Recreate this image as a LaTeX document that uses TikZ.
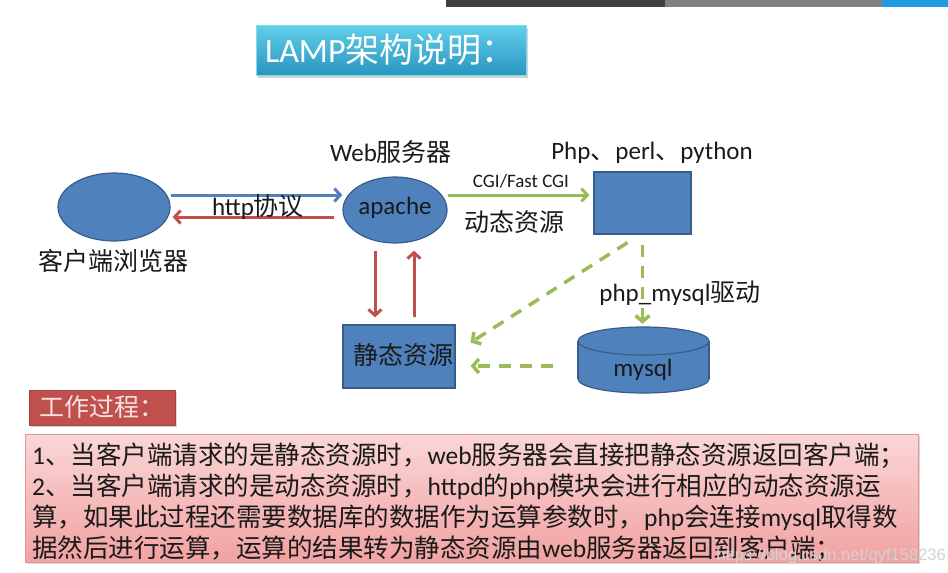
\documentclass[tikz,border=0pt]{standalone}
\usepackage{fontspec}
\setmainfont{Carlito}
\newfontfamily\cjk{Noto Sans CJK SC}
\newfontfamily\wmfont{Liberation Sans}
\newcommand\zh[1]{{\cjk #1}}
\usetikzlibrary{arrows.meta,shapes.geometric,shadows,calc}
\definecolor{obl}{HTML}{4F81BD}
\definecolor{obld}{HTML}{385D8A}
\definecolor{ored}{HTML}{C0504D}
\definecolor{ogrn}{HTML}{9BBB59}
\definecolor{txt}{HTML}{1A1A1A}
\definecolor{tcyanT}{HTML}{62CFEA}
\definecolor{tcyanB}{HTML}{2A95C0}
\definecolor{pinkT}{HTML}{FAD6D6}
\definecolor{pinkB}{HTML}{F2A2A2}
\definecolor{pinkD}{HTML}{E39595}
\definecolor{wrkTxt}{HTML}{F6E2E2}
\definecolor{barblue}{HTML}{1E9BE0}
\definecolor{wmgray}{HTML}{D2D2D2}
\begin{document}
\begin{tikzpicture}[x=1pt,y=-1pt,
  lbl/.style={font=\fontsize{25}{30}\selectfont, inner sep=0, text=txt},
  shapebox/.style={draw=obld, line width=1.2pt, fill=obl, inner sep=0},
  arrblue/.style={draw=obl, line width=3pt, -{Straight Barb[length=6pt,width=13pt]}},
  arrred/.style={draw=ored, line width=3pt, -{Straight Barb[length=6pt,width=13pt]}},
  arrgrn/.style={draw=ogrn, line width=3pt, -{Straight Barb[length=6pt,width=13pt]}},
  dashg/.style={draw=ogrn, line width=3.5pt, dash pattern=on 12pt off 9pt, -{Straight Barb[length=6pt,width=14pt]}},
  desc/.style={font=\fontsize{25.5}{31}\selectfont, inner sep=0, text=txt, anchor=base west}
]
\useasboundingbox (0,0) rectangle (948,573);
\fill[white] (0,0) rectangle (948,573);
% top bars
\fill[black!75] (446,0) rectangle (665,7);
\fill[black!50] (665,0) rectangle (882,7);
\fill[barblue] (882,0) rectangle (948,7);

% title
\node[draw=tcyanT!80!white, line width=1pt, top color=tcyanT, bottom color=tcyanB,
      minimum width=270, minimum height=50, inner xsep=9pt, inner ysep=0,
      text width=252pt, align=left, text=white,
      font=\fontsize{34}{38}\selectfont,
      drop shadow={opacity=0.35, shadow xshift=1.5pt, shadow yshift=-2.5pt}]
      (title) at (391,50) {LAMP\zh{架构说明：}};

% client
\node[ellipse, shapebox, minimum width=112, minimum height=68] (client) at (114,207) {};
\node[lbl] (clientlbl) at (113,261) {\zh{客户端浏览器}};

% apache
\node[ellipse, shapebox, minimum width=104, minimum height=66] (apache) at (395,210) {};
\node[lbl] (apachelbl) at (395,208) {apache};
\node[lbl] (weblbl) at (391,152) {Web\zh{服务器}};

% php box
\node[shapebox, minimum width=97, minimum height=62] (php) at (642.5,203) {};
\node[lbl] (phplbl) at (652,153) {Php\zh{、}perl\zh{、}python};

% static box
\node[shapebox, minimum width=112, minimum height=63] (static) at (399,356.5) {};
\node[lbl, anchor=west] (staticlbl) at (353,355) {\zh{静态资源}};

% mysql cylinder
\node[inner sep=0, minimum width=131, minimum height=66] (mysql) at (643.5,360) {};
\node[ellipse, shapebox, minimum width=131, minimum height=28] (mysqlbot) at (643.5,379) {};
\fill[obl] (578,341) rectangle (709,379);
\draw[obld, line width=1.2pt] (578,341) -- (578,379) (709,341) -- (709,379);
\node[ellipse, shapebox, minimum width=131, minimum height=28] (mysqltop) at (643.5,341) {};
\node[lbl] (mysqllbl) at (643,370) {mysql};

% http arrows
\draw[arrblue] (client.east |- 0,195) -- (apache.west |- 0,195);
\draw[arrred] ([xshift=-8pt]apache.west |- 0,217) -- ([xshift=2pt]client.east |- 0,217);
\node[lbl] (httplbl) at (258,207) {http\zh{协议}};

% CGI arrow
\draw[arrgrn] (apache.east |- 0,195) -- ([xshift=-4pt]php.west |- 0,195);
\node[lbl, font=\fontsize{19}{22}\selectfont] (cgilbl) at (521,181) {CGI/Fast CGI};
\node[lbl] (dynlbl) at (514,222) {\zh{动态资源}};

% apache <-> static
\draw[arrred] ([xshift=-20pt,yshift=-7pt]apache.south) -- ([xshift=-24pt,yshift=7pt]static.north);
\draw[arrred] ([xshift=15pt,yshift=7pt]static.north) -- ([xshift=19pt,yshift=-7pt]apache.south);

% dashed green
\draw[dashg] ([yshift=-10pt]php.south) -- ([yshift=3pt]php.south |- mysql.north);
\node[lbl] (drvlbl) at (680,293) {php\_mysql\zh{驱动}};
\draw[dashg] ([xshift=-15pt,yshift=-8pt]php.south) -- ([xshift=15pt,yshift=14pt]static.east);
\draw[dashg] ([xshift=-25pt,yshift=-6pt]mysql.west) -- ([xshift=15pt,yshift=-9.5pt]static.east);

% work process label
\node[fill=ored, draw=ored!85!black, line width=0.8pt, minimum width=146, minimum height=35, inner sep=0,
      text=wrkTxt, font=\fontsize{25}{30}\selectfont,
      drop shadow={opacity=0.3, shadow xshift=1.5pt, shadow yshift=-2pt}]
      (work) at (102,407.5) {\zh{工作过程：}};

% description box
\node[draw=pinkD, line width=1pt, top color=pinkT, bottom color=pinkB,
      minimum width=893, minimum height=128, inner sep=0,
      drop shadow={opacity=0.3, shadow xshift=1.5pt, shadow yshift=-2pt}]
      (descbox) at (471.5,498) {};
\node[desc] (l1) at (32,464) {1\zh{、当客户端请求的是静态资源时，}web\zh{服务器会直接把静态资源返回客户端；}};
\node[desc] (l2) at (32,495) {2\zh{、当客户端请求的是动态资源时，}httpd\zh{的}php\zh{模块会进行相应的动态资源运}};
\node[desc] (l3) at (32,526) {\zh{算，如果此过程还需要数据库的数据作为运算参数时，}php\zh{会连接}mysql\zh{取得数}};
\node[desc] (l4) at (32,557) {\zh{据然后进行运算，运算的结果转为静态资源由}web\zh{服务器返回到客户端；}};

% watermark
\node[inner sep=0, anchor=base east, text=wmgray,
      font=\wmfont\fontsize{16.5}{18}\selectfont] (wm) at (946,560) {https://blog.csdn.net/qyf158236};
\end{tikzpicture}
\end{document}
